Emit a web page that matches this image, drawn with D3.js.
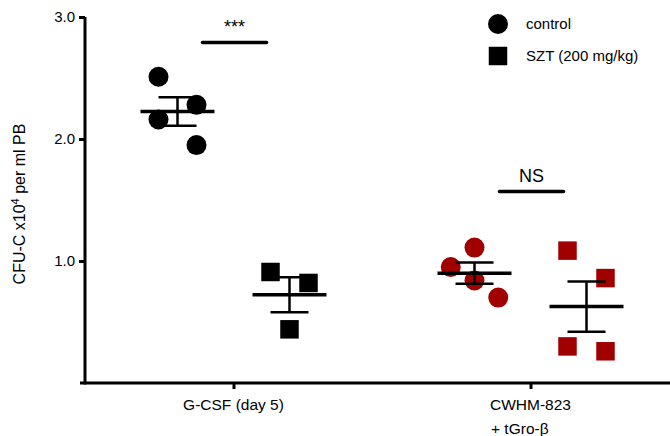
<!DOCTYPE html>
<html>
<head>
<meta charset="utf-8">
<script src="https://cdn.jsdelivr.net/npm/d3@7"></script>
<style>
  body { margin: 0; background: #fff; }
  svg text { font-family: "Liberation Sans", Arial, Helvetica, sans-serif; fill: #000; }
</style>
</head>
<body>
<svg id="chart" width="670" height="436"></svg>
<script>
// categories on the x axis, the two treatment series, y ticks
var categories = ['G-CSF (day 5)', 'CWHM-823|+ tGro-\u03b2'];
var series = ['control', 'SZT (200 mg/kg)'];
var yTicks = [1.0, 2.0, 3.0];

// individual mice, CFU-C x10^4 per ml PB
var gcsfControl = [2.51, 2.16, 2.28, 1.95];
var gcsfSzt = [0.91, 0.82, 0.44];
var cwhmControl = [0.95, 1.11, 0.84, 0.70];
var cwhmSzt = [1.085, 0.86, 0.30, 0.26];

// significance labels per category
var significance = ['***', 'NS'];
var sigLevel = [2.79, 1.57]; // height of the bracket, in data units

// scatter column slots (GraphPad style spreading), not data
var slots = {
	gcsfControl: [-1, -1, 1, 1],
	gcsfSzt: [-1, 1, 0],
	cwhmControl: [-1.25, 0, 0, 1.25],
	cwhmSzt: [-1, 1, -1, 1]
};

var groups = [
	{cat: 0, ser: 0, values: gcsfControl, slot: slots.gcsfControl, color: '#000000'},
	{cat: 0, ser: 1, values: gcsfSzt, slot: slots.gcsfSzt, color: '#000000'},
	{cat: 1, ser: 0, values: cwhmControl, slot: slots.cwhmControl, color: '#a00000'},
	{cat: 1, ser: 1, values: cwhmSzt, slot: slots.cwhmSzt, color: '#a00000'}
];

var svg = d3.select('#chart');
var margin = {left: 85, top: 17, bottom: 53};
var H = 436;

var y = d3.scaleLinear().domain([0, 3]).range([H - margin.bottom, margin.top]);
var x = d3.scalePoint().domain(categories).range([margin.left, 679]).padding(0.5);
var xSub = d3.scalePoint().domain(series).range([-56, 56]);
var slotW = 19;

function mean(a) { return d3.mean(a); }
function sem(a) { return d3.deviation(a) / Math.sqrt(a.length); }

// axes
var yAxis = svg.append('g')
	.attr('transform', 'translate(' + margin.left + ',0)')
	.call(d3.axisLeft(y).tickValues(yTicks).tickFormat(d3.format('.1f')).tickSize(6).tickPadding(4));
yAxis.select('.domain').attr('d', 'M0,' + y(3) + 'V' + (y(0) + 1.5));
yAxis.selectAll('line, path').attr('stroke', '#000').attr('stroke-width', 3);
yAxis.selectAll('text').style('font-size', '15px');

var xAxis = svg.append('g')
	.attr('transform', 'translate(0,' + y(0) + ')')
	.call(d3.axisBottom(x).tickSize(6).tickFormat(''));
xAxis.select('.domain').attr('d', 'M' + (margin.left - 5) + ',0H670');
xAxis.selectAll('line, path').attr('stroke', '#000').attr('stroke-width', 3);

// x labels (second line aligned on the left of the first)
categories.forEach(function(c) {
	var lines = c.split('|');
	var t = svg.append('text')
		.attr('x', x(c)).attr('y', 410)
		.attr('text-anchor', 'middle')
		.style('font-size', '15.5px')
		.text(lines[0]);
	if (lines.length > 1) {
		var w = t.node().getComputedTextLength();
		svg.append('text')
			.attr('x', x(c) - w / 2 + 1).attr('y', 434)
			.style('font-size', '15.5px')
			.text(lines[1]);
	}
});

// y title
var title = svg.append('text')
	.attr('transform', 'translate(25,204) rotate(-90)')
	.attr('text-anchor', 'middle')
	.style('font-size', '16px');
title.append('tspan').text('CFU-C x10');
title.append('tspan').attr('dy', -6).style('font-size', '11px').text('4');
title.append('tspan').attr('dy', 6).text(' per ml PB');

// points
var sym = {
	control: d3.symbol().type(d3.symbolCircle).size(Math.PI * 10 * 10),
	square: d3.symbol().type(d3.symbolSquare).size(18.5 * 18.5)
};

groups.forEach(function(g) {
	var cx = x(categories[g.cat]) + xSub(series[g.ser]);
	svg.append('g').selectAll('path')
		.data(g.values)
		.join('path')
		.attr('d', g.ser === 0 ? sym.control : sym.square)
		.attr('transform', function(d, i) { return 'translate(' + (cx + g.slot[i] * slotW) + ',' + y(d) + ')'; })
		.attr('fill', g.color);
});

// mean +/- SEM
groups.forEach(function(g) {
	var cx = x(categories[g.cat]) + xSub(series[g.ser]);
	var m = mean(g.values), s = sem(g.values);
	var e = svg.append('g').attr('stroke', '#000');
	e.append('line').attr('x1', cx).attr('x2', cx).attr('y1', y(m + s)).attr('y2', y(m - s)).attr('stroke-width', 2.5);
	e.append('line').attr('x1', cx - 19).attr('x2', cx + 19).attr('y1', y(m + s)).attr('y2', y(m + s)).attr('stroke-width', 2.5);
	e.append('line').attr('x1', cx - 19).attr('x2', cx + 19).attr('y1', y(m - s)).attr('y2', y(m - s)).attr('stroke-width', 2.5);
	e.append('line').attr('x1', cx - 37).attr('x2', cx + 37).attr('y1', y(m)).attr('y2', y(m)).attr('stroke-width', 3.5);
});

// significance brackets
categories.forEach(function(c, i) {
	var cx = x(c);
	svg.append('line')
		.attr('x1', cx - 31).attr('x2', cx + 33)
		.attr('y1', y(sigLevel[i])).attr('y2', y(sigLevel[i]))
		.attr('stroke', '#000').attr('stroke-width', 3.5).attr('stroke-linecap', 'round');
	svg.append('text')
		.attr('x', cx + 1).attr('y', y(sigLevel[i]) - (i === 0 ? 10 : 9))
		.attr('text-anchor', 'middle')
		.style('font-size', '18px')
		.text(significance[i]);
});

// legend
var legend = svg.append('g').attr('transform', 'translate(498,24)');
series.forEach(function(s, i) {
	var row = legend.append('g').attr('transform', 'translate(0,' + i * 32 + ')');
	row.append('path').attr('d', i === 0 ? sym.control : sym.square).attr('fill', '#000');
	row.append('text').attr('x', 28).attr('dy', '0.35em').style('font-size', '15px').text(s);
});
</script>
</body>
</html>
